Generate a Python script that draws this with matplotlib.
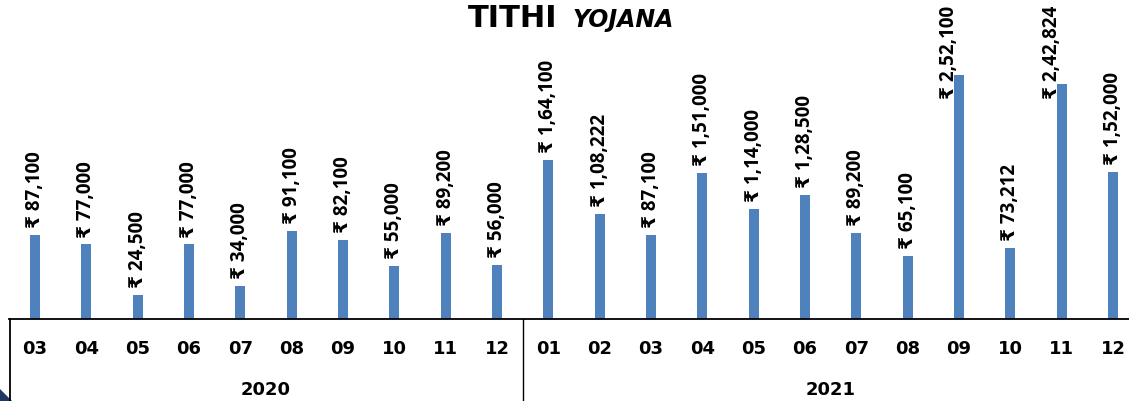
import matplotlib
matplotlib.use("Agg")
import matplotlib.pyplot as plt
from matplotlib.lines import Line2D
from matplotlib.patches import Polygon
import matplotlib.transforms as mtransforms

months = ["03", "04", "05", "06", "07", "08", "09", "10", "11", "12",
          "01", "02", "03", "04", "05", "06", "07", "08", "09", "10", "11", "12"]
years = ["2020", "2021"]
year_counts = [10, 12]
values = [87100, 77000, 24500, 77000, 34000, 91100, 82100, 55000, 89200, 56000,
          164100, 108222, 87100, 151000, 114000, 128500, 89200, 65100, 252100, 73212, 242824, 152000]
labels = ["₹ 87,100", "₹ 77,000", "₹ 24,500", "₹ 77,000", "₹ 34,000", "₹ 91,100", "₹ 82,100",
          "₹ 55,000", "₹ 89,200", "₹ 56,000", "₹ 1,64,100", "₹ 1,08,222", "₹ 87,100", "₹ 1,51,000",
          "₹ 1,14,000", "₹ 1,28,500", "₹ 89,200", "₹ 65,100", "₹ 2,52,100", "₹ 73,212",
          "₹ 2,42,824", "₹ 1,52,000"]

FAM = ["Open Sans", "DejaVu Sans"]
W, H = 1129, 401
fig = plt.figure(figsize=(W / 100, H / 100), dpi=100)
fig.patch.set_facecolor("white")

x_left, x_right = 9.3, 1138.7
y_base = 319
ax = fig.add_axes([x_left / W, 1 - y_base / H, (x_right - x_left) / W, y_base / H])
ax.set_facecolor("none")
n = len(values)
xs = list(range(n))
ax.bar(xs, values, width=0.2, color="#4F81BD", zorder=2)
ax.set_xlim(-0.5, n - 0.5)
ax.set_ylim(0, 329500)
for s in ["top", "right", "left", "bottom"]:
    ax.spines[s].set_visible(False)
ax.set_yticks([])
ax.set_xticks([])


def fx(px):
    return px / W


def fy(py):
    return 1 - py / H


# value labels
renderer = fig.canvas.get_renderer()
for x, v, lab in zip(xs, values, labels):
    t = ax.annotate(lab, (x, v), xytext=(0, 5), textcoords="offset points",
                    rotation=90, ha="center", va="bottom", fontsize=13.5,
                    fontweight="bold", family=FAM, color="black", annotation_clip=False)
    bb = t.get_window_extent(renderer)
    if bb.y1 > H - 4:
        # keep label inside the chart area (shift down and to the left of the bar)
        t.remove()
        tr = mtransforms.blended_transform_factory(ax.transData, fig.transFigure) + \
            mtransforms.ScaledTranslation(-10 / 100, 0, fig.dpi_scale_trans)
        ax.text(x, fy(6), lab, transform=tr, rotation=90, ha="center", va="top",
                fontsize=13.5, fontweight="bold", family=FAM, color="black", zorder=3)

# axis box lines (pixel based)
fig.add_artist(Line2D([fx(x_left), 1.0], [fy(y_base), fy(y_base)], color="black", lw=1.3))
fig.add_artist(Line2D([fx(10), fx(10)], [fy(y_base), 0], color="black", lw=1.3))
sep_px = x_left + (x_right - x_left) * (year_counts[0] / n)
fig.add_artist(Line2D([fx(sep_px), fx(sep_px)], [fy(y_base), 0], color="black", lw=1.0))

# month labels
trans = mtransforms.blended_transform_factory(ax.transData, fig.transFigure)
for x, m in zip(xs, months):
    ax.text(x, fy(349), m, transform=trans, ha="center", va="center",
            fontsize=13, fontweight="bold", family="DejaVu Sans", color="black")

# year labels
start = 0
for yr, c in zip(years, year_counts):
    center = start + (c - 1) / 2
    ax.text(center, fy(390), yr, transform=trans, ha="center", va="center",
            fontsize=13, fontweight="bold", family="DejaVu Sans", color="black")
    start += c

# title
fig.text(fx(557), fy(27), "TITHI", ha="right", va="baseline", fontsize=22,
         fontweight="bold", family="DejaVu Sans", color="black")
fig.text(fx(573), fy(27), "YOJANA", ha="left", va="baseline", fontsize=17,
         fontweight="bold", fontstyle="italic", family="DejaVu Sans", color="black")

# decorative corner triangle
fig.add_artist(Polygon([[0, fy(389)], [fx(12), 0], [0, 0]], closed=True,
                       facecolor="#1F3864", edgecolor="none", transform=fig.transFigure))

fig.savefig("out.png", dpi=100, facecolor="white")
